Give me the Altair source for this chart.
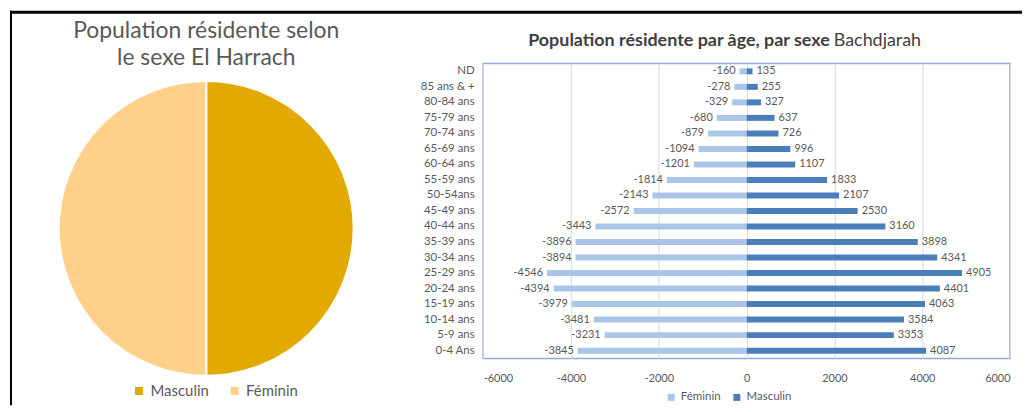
import altair as alt
import pandas as pd

# ---- data ----
ages = ["ND", "85 ans & +", "80-84 ans", "75-79 ans", "70-74 ans", "65-69 ans",
        "60-64 ans", "55-59 ans", "50-54ans", "45-49 ans", "40-44 ans", "35-39 ans",
        "30-34 ans", "25-29 ans", "20-24 ans", "15-19 ans", "10-14 ans", "5-9 ans", "0-4 Ans"]
feminin = [-160, -278, -329, -680, -879, -1094, -1201, -1814, -2143, -2572, -3443,
           -3896, -3894, -4546, -4394, -3979, -3481, -3231, -3845]
masculin = [135, 255, 327, 637, 726, 996, 1107, 1833, 2107, 2530, 3160,
            3898, 4341, 4905, 4401, 4063, 3584, 3353, 4087]
x_ticks = [-6000, -4000, -2000, 0, 2000, 4000, 6000]

pie_labels = ["Masculin", "Féminin"]
pie_values = [50, 50]
pie_order = [0, 1]

pie_title = ["Population résidente  selon", "le sexe El Harrach"]
bar_title_bold = "Population résidente par âge, par sexe"
bar_title_normal = "Bachdjarah"

FONT = "Lato"
GREY = "#595959"

# ---- pie panel ----
pie_df = pd.DataFrame({"sexe": pie_labels, "part": pie_values, "ordre": pie_order})
one = pd.DataFrame({"k": [0]})

pie = alt.Chart(pie_df).mark_arc(radius=148, stroke="white", strokeWidth=2).encode(
    theta=alt.Theta("part:Q", stack=True),
    order=alt.Order("ordre:Q"),
    color=alt.Color(
        "sexe:N",
        scale=alt.Scale(domain=pie_labels, range=["#E2AA00", "#FFD08A"]),
        legend=alt.Legend(title=None, orient="none", legendX=122, legendY=321,
                          direction="horizontal", symbolType="square", symbolSize=64,
                          symbolStrokeWidth=0, labelFontSize=15, labelColor=GREY,
                          labelFont=FONT, columnPadding=18),
    ),
)

pie_title_mark = alt.Chart(one).mark_text(
    text=pie_title, lineHeight=27, fontSize=23, font=FONT, color=GREY,
    align="center", baseline="top",
).encode(x=alt.value(197), y=alt.value(-44))

frame_top = alt.Chart(one).mark_rule(color="black", strokeWidth=3).encode(
    x=alt.value(0), x2=alt.value(1016), y=alt.value(-51.5))
frame_left = alt.Chart(one).mark_rule(color="black", strokeWidth=2).encode(
    x=alt.value(1), y=alt.value(-53), y2=alt.value(343))

pie_panel = alt.layer(pie, pie_title_mark, frame_top, frame_left).properties(
    width=394, height=331, view=alt.ViewBackground(stroke="transparent"))

# ---- pyramid panel ----
bar_df = pd.DataFrame({
    "age": ages * 2,
    "sexe": ["Féminin"] * len(ages) + ["Masculin"] * len(ages),
    "valeur": feminin + masculin,
})
base = alt.Chart(bar_df)

x_enc = alt.X("valeur:Q", stack=False,
              scale=alt.Scale(domain=[-6000, 6000], nice=False, zero=False),
              axis=alt.Axis(values=x_ticks, title=None, grid=True, gridColor="#D9D9D9",
                            domain=False, ticks=False, labelPadding=14,
                            labelExpr="'' + datum.value", labelFont=FONT,
                            labelColor=GREY, labelFontSize=11))
y_enc = alt.Y("age:N", sort=ages,
              scale=alt.Scale(paddingInner=0, paddingOuter=0),
              axis=alt.Axis(title=None, domain=False, ticks=False, labelPadding=9,
                            labelFont=FONT, labelColor=GREY, labelFontSize=11.5))

bars = base.mark_bar(size=6).encode(
    x=x_enc, y=y_enc,
    color=alt.Color(
        "sexe:N",
        scale=alt.Scale(domain=["Féminin", "Masculin"], range=["#A9C6E8", "#4A7EB8"]),
        legend=alt.Legend(title=None, orient="none", legendX=183, legendY=329,
                          direction="horizontal", symbolType="square", symbolSize=49,
                          symbolStrokeWidth=0, labelFontSize=11.5, labelColor=GREY,
                          labelFont=FONT, columnPadding=10),
    ),
)

fem_text = base.transform_filter("datum.sexe == 'Féminin'").transform_calculate(
    lbl="'' + datum.valeur"
).mark_text(align="right", dx=-4, fontSize=11, font=FONT, color=GREY).encode(
    x="valeur:Q", y=alt.Y("age:N", sort=ages), text="lbl:N")

mas_text = base.transform_filter("datum.sexe == 'Masculin'").transform_calculate(
    lbl="'' + datum.valeur"
).mark_text(align="left", dx=4, fontSize=11, font=FONT, color=GREY).encode(
    x="valeur:Q", y=alt.Y("age:N", sort=ages), text="lbl:N")

title_bold = alt.Chart(one).mark_text(
    text=bar_title_bold, fontSize=18, fontWeight="bold", font=FONT, color="#404040",
    align="right", baseline="middle",
).encode(x=alt.value(348), y=alt.value(-23))
title_norm = alt.Chart(one).mark_text(
    text=bar_title_normal, fontSize=18, font=FONT, color="#404040",
    align="left", baseline="middle",
).encode(x=alt.value(352), y=alt.value(-23))

bar_panel = alt.layer(bars, fem_text, mas_text, title_bold, title_norm).properties(
    width=529, height=296,
    view=alt.ViewBackground(stroke="#8FAADC", strokeWidth=1.5))

chart = alt.hconcat(pie_panel, bar_panel, spacing=81, bounds="flush").resolve_scale(
    color="independent").properties(padding=0).configure(font=FONT)

chart.save("out.html", embed_options={"renderer": "svg", "actions": False})
